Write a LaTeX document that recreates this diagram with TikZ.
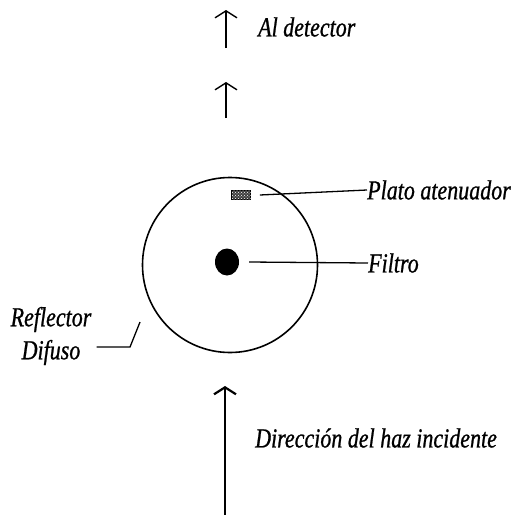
\documentclass[tikz,border=0pt]{standalone}
\usepackage{fontspec}
\usetikzlibrary{arrows.meta,positioning,shapes.geometric,patterns}
\newfontfamily\lblfont[FakeStretch=0.8,FakeBold=0.8]{Liberation Serif}
\newcommand{\diagfont}{\lblfont\itshape\fontsize{27.5}{33}\selectfont}

\begin{document}
\begin{tikzpicture}[x=1pt, y=-1pt,
        lbl/.style={inner sep=0pt, align=center, font=\diagfont},
        arr/.style={-{Straight Barb[length=7pt, width=22pt]}, line width=1.4pt},
        beam/.style={-{Straight Barb[length=7pt, width=22pt]}, line width=2.2pt},
        leader/.style={line width=1.3pt},
        plate/.style={draw, line width=0.8pt, fill=black!75, postaction={pattern=crosshatch dots, pattern color=white}, minimum width=19pt, minimum height=9pt, inner sep=0pt},
        >=Latex
      ]
      \useasboundingbox (0,0) rectangle (514,515);
      % sphere and its contents
      \node[draw, circle, line width=1.6pt, minimum size=175pt, inner sep=0pt] (refl) at (230,265) {};
      \node[plate] (plato) at (241,195) {};
      \node[fill, ellipse, minimum width=24pt, minimum height=27pt, inner sep=0pt] (filtro) at (227,262) {};

      % beams
      \coordinate (inA) at (225,515);
      \coordinate (inB) at (225,386);
      \coordinate (outA) at (226,118);
      \coordinate (outB) at (226,82);
      \coordinate (outC) at (226,48);
      \coordinate (outD) at (226,10);
      \draw[beam] (inA) -- (inB);
      \draw[arr] (outA) -- (outB);
      \draw[arr] (outC) -- (outD);

      % labels
      \node[lbl, anchor=west] (det) at (258,27) {Al detector};
      \node[lbl, anchor=west] (platolbl) at (367,190) {Plato atenuador};
      \node[lbl, anchor=west] (filtrolbl) at (368,263) {Filtro};
      \node[lbl] (refllbl) at (51,336) {Reflector\\Difuso};
      \node[lbl, anchor=west] (haz) at (255,438) {Dirección del haz incidente};

      % leader lines
      \draw[leader] ([xshift=9pt]plato.east) -- (platolbl.west);
      \draw[leader] ([xshift=10pt]filtro.east) -- (filtrolbl.west);
      \coordinate (kink) at (130,347);
      \draw[leader] ([shift={(5,11)}]refllbl.east) -- (kink) -- ++(10,-25);
    \end{tikzpicture}
\end{document}
